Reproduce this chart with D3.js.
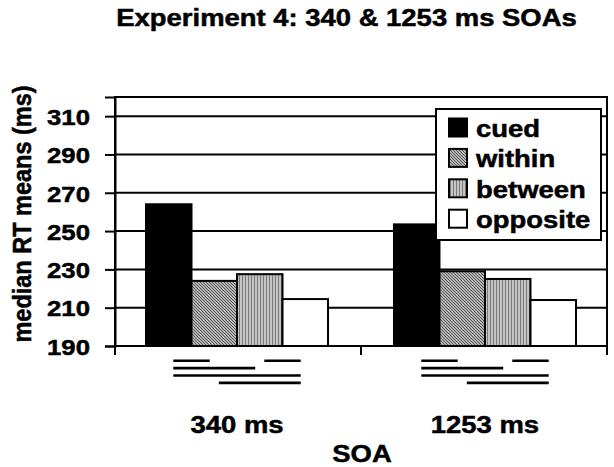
<!DOCTYPE html>
<html>
<head>
<meta charset="utf-8">
<script src="https://cdn.jsdelivr.net/npm/d3@7"></script>
<style>
  html, body { margin: 0; padding: 0; background: #fff; }
  svg text { font-family: "Liberation Sans", Arial, sans-serif; font-weight: bold; fill: #000; stroke: #000; stroke-width: 0.5px; }
</style>
</head>
<body>
<svg id="chart" width="614" height="467"></svg>
<script>
// ---------- data ----------
const categories = ["340 ms", "1253 ms"];
const seriesNames = ["cued", "within", "between", "opposite"];
const cued = [264, 253.5];
const within = [224, 229];
const between = [227.5, 225];
const opposite = [214.5, 214];
const yTicks = [190, 210, 230, 250, 270, 290, 310];
const comparisons = [
  ["cued", "within", 0],
  ["between", "opposite", 0],
  ["cued", "between", 1],
  ["cued", "opposite", 2],
  ["within", "opposite", 3]
];
const titleText = "Experiment 4: 340 & 1253 ms SOAs";
const yLabel = "median RT means (ms)";
const xLabel = "SOA";

const valuesBySeries = { cued, within, between, opposite };

// ---------- layout ----------
const svg = d3.select("#chart");
const L = 115, R = 607, T = 97, B = 346;
const SX = 1.12; // horizontal stretch of the original's text

const y = d3.scaleLinear().domain([190, 320]).range([B, T]);
const x0 = d3.scaleBand().domain(categories).range([L, R]).paddingInner(0.266).paddingOuter(0.125);
const x1 = d3.scaleBand().domain(seriesNames).range([0, x0.bandwidth()]).padding(0);

// patterns
const defs = svg.append("defs");
const pw = defs.append("pattern").attr("id", "pWithin").attr("patternUnits", "userSpaceOnUse")
  .attr("width", 3).attr("height", 3);
pw.append("rect").attr("width", 3).attr("height", 3).attr("fill", "#e4e4e4");
pw.append("path").attr("d", "M-1,-1 L4,4 M-1,2 L1,4 M2,-1 L4,1")
  .attr("stroke", "#505050").attr("stroke-width", 1.2);
const pb = defs.append("pattern").attr("id", "pBetween").attr("patternUnits", "userSpaceOnUse")
  .attr("width", 3).attr("height", 3);
pb.append("rect").attr("width", 3).attr("height", 3).attr("fill", "#c4c4c4");
pb.append("rect").attr("width", 1).attr("height", 3).attr("fill", "#7a7a7a");

const fills = { cued: "#000", within: "url(#pWithin)", between: "url(#pBetween)", opposite: "#fff" };

function stretchText(sel) {
  return sel.attr("transform", function() {
    const t = d3.select(this);
    const tx = +t.attr("data-x"), ty = +t.attr("data-y");
    return `translate(${tx},${ty}) scale(${SX},1)`;
  });
}

// title
svg.append("text").attr("data-x", 346.5).attr("data-y", 26)
  .attr("text-anchor", "middle").attr("font-size", 24.5).text(titleText).call(stretchText);

// plot frame
svg.append("rect").attr("x", L).attr("y", T).attr("width", R - L).attr("height", B - T)
  .attr("fill", "#fff").attr("stroke", "#000").attr("stroke-width", 2);

// gridlines
svg.append("g").selectAll("line").data(yTicks.filter(d => d > 190)).join("line")
  .attr("x1", L).attr("x2", R).attr("y1", d => y(d)).attr("y2", d => y(d))
  .attr("stroke", "#000").attr("stroke-width", 2);

// bars
const groups = svg.append("g").selectAll("g").data(categories).join("g")
  .attr("transform", d => `translate(${x0(d)},0)`);
groups.selectAll("rect").data((c, i) => seriesNames.map(s => ({ s, v: valuesBySeries[s][i] })))
  .join("rect")
  .attr("x", d => x1(d.s)).attr("width", x1.bandwidth())
  .attr("y", d => y(d.v)).attr("height", d => y(190) - y(d.v))
  .attr("fill", d => fills[d.s]).attr("stroke", "#000").attr("stroke-width", 2);

// y axis
const yAxis = svg.append("g").attr("transform", `translate(${L},0)`)
  .call(d3.axisLeft(y).tickValues(yTicks).tickSize(10).tickFormat(d3.format("d")));
yAxis.select(".domain").attr("stroke", "#000").attr("stroke-width", 2);
yAxis.selectAll(".tick line").attr("stroke", "#000").attr("stroke-width", 2);
yAxis.selectAll(".tick text")
  .attr("x", null).attr("dy", null)
  .attr("font-size", 23).attr("font-family", null)
  .attr("transform", `translate(-25,8.3) scale(${SX},1)`)
  .attr("text-anchor", "end");
yAxis.attr("font-family", null);

// x axis line and boundary ticks
svg.append("line").attr("x1", L).attr("x2", R).attr("y1", B).attr("y2", B)
  .attr("stroke", "#000").attr("stroke-width", 2);
const boundaries = [L];
for (let i = 0; i < categories.length - 1; i++) {
  const a = x0(categories[i]) + x0.bandwidth(), b = x0(categories[i + 1]);
  boundaries.push((a + b) / 2);
}
boundaries.push(R);
svg.append("g").selectAll("line").data(boundaries).join("line")
  .attr("x1", d => d).attr("x2", d => d).attr("y1", B).attr("y2", B + 9)
  .attr("stroke", "#000").attr("stroke-width", 2);

// significance lines
const rowY = r => 360.7 + r * 7.4;
groups.selectAll("line.sig").data(comparisons).join("line").attr("class", "sig")
  .attr("x1", d => x1(d[0]) + 0.6 * x1.bandwidth())
  .attr("x2", d => x1(d[1]) + 0.4 * x1.bandwidth())
  .attr("y1", d => rowY(d[2])).attr("y2", d => rowY(d[2]))
  .attr("stroke", "#000").attr("stroke-width", 2.6);

// category labels
svg.append("g").selectAll("text").data(categories).join("text")
  .attr("data-x", d => x0(d) + x0.bandwidth() / 2).attr("data-y", 433)
  .attr("text-anchor", "middle").attr("font-size", 24.5).text(d => d).call(stretchText);

// x label
svg.append("text").attr("data-x", 362).attr("data-y", 461.5)
  .attr("text-anchor", "middle").attr("font-size", 24.5).text(xLabel).call(stretchText);

// y label
svg.append("text")
  .attr("transform", `translate(31,214) rotate(-90) scale(1,${SX})`)
  .attr("text-anchor", "middle").attr("font-size", 23.5).text(yLabel);

// legend
const lg = svg.append("g");
lg.append("rect").attr("x", 436).attr("y", 109).attr("width", 165).attr("height", 131)
  .attr("fill", "#fff").attr("stroke", "#000").attr("stroke-width", 2);
const items = lg.selectAll("g.item").data(seriesNames).join("g").attr("class", "item");
items.append("rect")
  .attr("x", 449).attr("y", (d, i) => 118.5 + i * 30.4).attr("width", 18).attr("height", 18)
  .attr("fill", d => fills[d]).attr("stroke", "#000").attr("stroke-width", 2);
items.append("text")
  .attr("data-x", 476).attr("data-y", (d, i) => 137 + i * 30.4)
  .attr("font-size", 24.5).text(d => d).call(stretchText);
</script>
</body>
</html>
